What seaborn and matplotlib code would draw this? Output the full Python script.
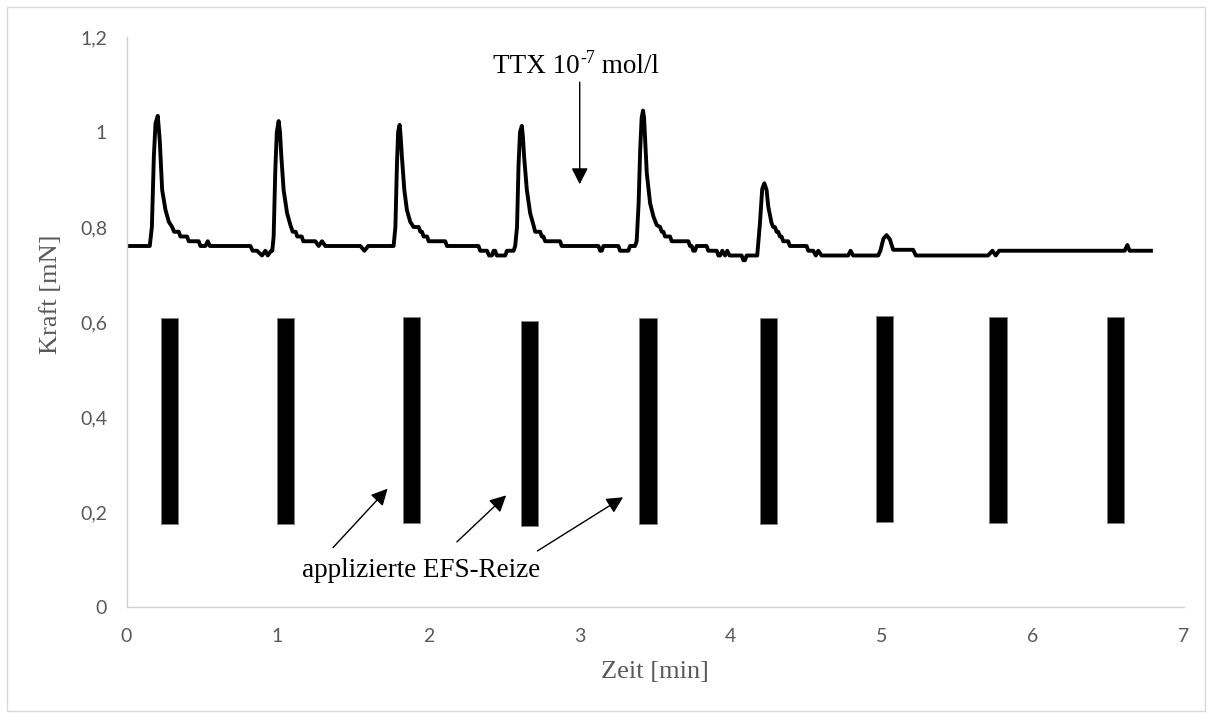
import matplotlib
matplotlib.use("Agg")
import matplotlib.pyplot as plt
import seaborn as sns
import pandas as pd
from matplotlib.patches import Rectangle

# ---------------- data ----------------
trace_t = [0.000, 0.154, 0.168, 0.181, 0.192, 0.207, 0.220, 0.236, 0.258, 0.280,
           0.302, 0.315, 0.346, 0.357, 0.401, 0.412, 0.478, 0.489, 0.522, 0.538,
           0.552, 0.820, 0.835, 0.864, 0.897, 0.919, 0.935, 0.957, 0.965, 0.974,
           0.985, 0.995, 1.007, 1.016, 1.025, 1.040, 1.063, 1.085, 1.100, 1.120,
           1.130, 1.160, 1.170, 1.250, 1.272, 1.294, 1.316, 1.548, 1.575, 1.600,
           1.757, 1.768, 1.780, 1.790, 1.798, 1.808, 1.815, 1.823, 1.839, 1.856,
           1.878, 1.900, 1.934, 1.945, 1.956, 1.967, 1.990, 2.000, 2.110, 2.121,
           2.330, 2.341, 2.386, 2.400, 2.419, 2.430, 2.440, 2.451, 2.507, 2.518,
           2.562, 2.573, 2.585, 2.595, 2.605, 2.617, 2.624, 2.632, 2.650, 2.672,
           2.694, 2.705, 2.738, 2.749, 2.760, 2.771, 2.870, 2.881, 3.124, 3.135,
           3.146, 3.157, 3.256, 3.267, 3.322, 3.333, 3.366, 3.377, 3.390, 3.400,
           3.410, 3.419, 3.426, 3.433, 3.444, 3.466, 3.488, 3.510, 3.532, 3.543,
           3.554, 3.565, 3.598, 3.609, 3.719, 3.730, 3.741, 3.752, 3.763, 3.774,
           3.840, 3.851, 3.907, 3.918, 3.929, 3.944, 3.962, 3.977, 3.992, 4.072,
           4.083, 4.094, 4.105, 4.160, 4.175, 4.193, 4.208, 4.222, 4.237, 4.248,
           4.270, 4.281, 4.292, 4.303, 4.314, 4.325, 4.336, 4.347, 4.380, 4.391,
           4.502, 4.513, 4.546, 4.563, 4.579, 4.601, 4.777, 4.793, 4.810, 4.976,
           4.990, 5.010, 5.031, 5.053, 5.075, 5.207, 5.225, 5.703, 5.732, 5.754,
           5.776, 6.607, 6.625, 6.640, 6.794]
trace_f = [0.760, 0.760, 0.800, 0.948, 1.018, 1.034, 0.983, 0.878, 0.836, 0.811,
           0.800, 0.790, 0.790, 0.780, 0.780, 0.770, 0.770, 0.760, 0.760, 0.770,
           0.760, 0.760, 0.750, 0.750, 0.740, 0.750, 0.740, 0.750, 0.750, 0.780,
           0.920, 1.000, 1.023, 1.000, 0.948, 0.878, 0.829, 0.804, 0.790, 0.790,
           0.780, 0.780, 0.770, 0.770, 0.760, 0.770, 0.760, 0.760, 0.750, 0.760,
           0.760, 0.760, 0.800, 0.930, 1.000, 1.015, 0.990, 0.948, 0.878, 0.836,
           0.811, 0.800, 0.800, 0.790, 0.790, 0.780, 0.780, 0.770, 0.770, 0.760,
           0.760, 0.750, 0.750, 0.740, 0.740, 0.750, 0.750, 0.740, 0.740, 0.750,
           0.750, 0.760, 0.800, 0.930, 1.000, 1.013, 0.990, 0.948, 0.878, 0.829,
           0.804, 0.790, 0.790, 0.780, 0.780, 0.770, 0.770, 0.760, 0.760, 0.750,
           0.750, 0.760, 0.760, 0.750, 0.750, 0.760, 0.760, 0.770, 0.850, 0.960,
           1.030, 1.045, 1.030, 0.983, 0.913, 0.850, 0.822, 0.804, 0.800, 0.790,
           0.790, 0.780, 0.780, 0.770, 0.770, 0.760, 0.760, 0.750, 0.750, 0.760,
           0.760, 0.750, 0.750, 0.740, 0.740, 0.750, 0.740, 0.750, 0.740, 0.740,
           0.730, 0.730, 0.740, 0.740, 0.740, 0.808, 0.880, 0.892, 0.878, 0.843,
           0.808, 0.800, 0.800, 0.790, 0.790, 0.780, 0.780, 0.770, 0.770, 0.760,
           0.760, 0.750, 0.750, 0.740, 0.750, 0.740, 0.740, 0.750, 0.740, 0.740,
           0.750, 0.775, 0.783, 0.774, 0.752, 0.752, 0.740, 0.740, 0.750, 0.740,
           0.750, 0.750, 0.762, 0.750, 0.750]

stim_t = [0.284, 1.055, 1.889, 2.669, 3.452, 4.250, 5.016, 5.769, 6.548]
stim_top = [0.608, 0.608, 0.610, 0.603, 0.608, 0.608, 0.613, 0.611, 0.611]
stim_bottom = [0.175, 0.175, 0.177, 0.170, 0.175, 0.174, 0.180, 0.177, 0.177]

x_ticks = [0, 1, 2, 3, 4, 5, 6, 7]
y_ticks = [0, 0.2, 0.4, 0.6, 0.8, 1.0, 1.2]
y_tick_labels = ["0", "0,2", "0,4", "0,6", "0,8", "1", "1,2"]

x_title = "Zeit [min]"
y_title = "Kraft [mN]"
ttx_main = "TTX 10"
ttx_sup = "-7"
ttx_unit = " mol/l"
efs_label = "applizierte EFS-Reize"

# annotation anchors (data coordinates)
ttx_text_pos = (2.427, 1.1235)
efs_text_pos = (1.162, 0.063)
ttx_arrow_tail = (3.0, 1.105)
ttx_arrow_tip = (3.0, 0.89)
efs_arrow_tails = [(1.367, 0.125), (2.187, 0.137), (2.720, 0.118)]
efs_arrow_tips = [(1.728, 0.249), (2.513, 0.235), (3.287, 0.231)]

# ---------------- style ----------------
sns.set_theme(style="white")
plt.rcParams["font.family"] = ["Liberation Serif", "DejaVu Serif"]

W, H = 1212, 718
fig = plt.figure(figsize=(W / 100, H / 100), dpi=100)
fig.patch.set_facecolor("white")
ax = fig.add_axes([126.5 / W, (H - 607) / H, (1184 - 126.5) / W, 570 / H])

df = pd.DataFrame({"Zeit": trace_t, "Kraft": trace_f})
sns.lineplot(data=df, x="Zeit", y="Kraft", sort=False, estimator=None,
             color="black", lw=2.8, ax=ax, solid_joinstyle="round",
             solid_capstyle="butt")

heights = [t - b for t, b in zip(stim_top, stim_bottom)]
ax.bar(stim_t, heights, bottom=stim_bottom, width=0.113, color="black",
       edgecolor="#808080", linewidth=0.6, zorder=3)

ax.set_xlim(0, 7)
ax.set_ylim(0, 1.2)
ax.set_xticks(x_ticks)
ax.set_xticklabels([str(v) for v in x_ticks])
ax.set_yticks(y_ticks)
ax.set_yticklabels(y_tick_labels)
for lab in ax.get_xticklabels() + ax.get_yticklabels():
    lab.set_family(["Lato", "DejaVu Sans"])
    lab.set_fontsize(14)
    lab.set_color("#595959")
ax.tick_params(axis="both", length=0)
ax.tick_params(axis="y", pad=14)
ax.tick_params(axis="x", pad=15)

for s in ["top", "right"]:
    ax.spines[s].set_visible(False)
for s in ["left", "bottom"]:
    ax.spines[s].set_color("#d0d0d0")
    ax.spines[s].set_linewidth(1.0)
ax.grid(False)

ax.set_xlabel(x_title, fontsize=19, color="#595959")
ax.set_ylabel(y_title, fontsize=19, color="#595959")
ax.xaxis.set_label_coords(0.5, -0.095)
ax.yaxis.set_label_coords(-0.0614, 0.549)

arrow_kw = dict(arrowstyle="-|>,head_length=0.55,head_width=0.28",
                mutation_scale=18, color="black", lw=1.0,
                shrinkA=0, shrinkB=0)

# TTX annotation (superscript built from separate pieces to keep a hyphen)
t1 = ax.text(ttx_text_pos[0], ttx_text_pos[1], ttx_main, fontsize=19.5,
             color="black", ha="left", va="baseline")
t2 = ax.annotate(ttx_sup, xy=(1, 0.5), xycoords=t1, xytext=(0.5, 0),
                 textcoords="offset points", fontsize=13, color="black",
                 ha="left", va="bottom")
t3 = ax.annotate(ttx_unit, xy=(1, 0), xycoords=(t2, t1), fontsize=19.5,
                 color="black", ha="left", va="bottom")
ax.annotate("", xy=ttx_arrow_tip, xytext=ttx_arrow_tail, arrowprops=arrow_kw)

# EFS annotation
ax.text(efs_text_pos[0], efs_text_pos[1], efs_label, fontsize=19.5,
        color="black", ha="left", va="baseline")
for tail, tip in zip(efs_arrow_tails, efs_arrow_tips):
    ax.annotate("", xy=tip, xytext=tail, arrowprops=arrow_kw)

# light figure border
fig.patches.append(Rectangle((7 / W, 7 / H), (1205 - 7) / W, (711 - 7) / H,
                             transform=fig.transFigure, fill=False,
                             edgecolor="#d9d9d9", lw=1.0))

fig.savefig("out.png", dpi=100, facecolor="white")
